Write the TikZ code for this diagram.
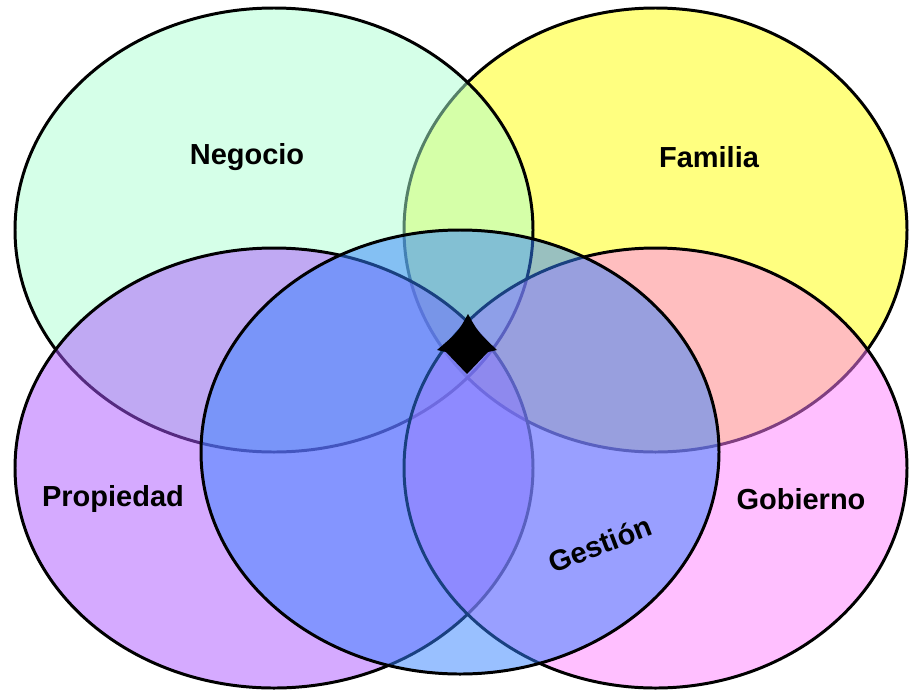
\documentclass[tikz,border=0pt]{standalone}
\usepackage{fontspec}
\setmainfont{Liberation Sans}
\usepackage{tikz}
\usetikzlibrary{positioning}
\usepackage{xcolor}
\definecolor{negociocol}{RGB}{171,255,209}
\definecolor{familiacol}{RGB}{255,255,1}
\definecolor{propiedadcol}{RGB}{171,85,255}
\definecolor{gobiernocol}{RGB}{255,127,255}
\definecolor{gestioncol}{RGB}{51,129,255}

\begin{document}
\begin{tikzpicture}[x=0.02cm, y=-0.02cm]
    \tikzset{
        set/.style={
            draw=black,
            line width=1.7pt,
            fill=#1,
            fill opacity=0.5,
            draw opacity=1
        },
        set label/.style={
            font=\fontsize{16.5}{19}\selectfont\bfseries,
            text=black,
            inner sep=1pt
        }
    }
    \useasboundingbox (0,0) rectangle (909,690);

    % the five sets
    \draw[set=familiacol] (655.5,230) ellipse [x radius=251.5, y radius=222];
    \draw[set=negociocol] (274,230) ellipse [x radius=259, y radius=222];
    \draw[set=propiedadcol] (274,468) ellipse [x radius=259, y radius=220];
    \draw[set=gobiernocol] (655.5,468) ellipse [x radius=251.5, y radius=220];
    \draw[set=gestioncol] (460,452) ellipse [x radius=259, y radius=222];

    % centre mark
    \fill[black] (468,314) .. controls (458,332) .. (437,350)
        -- (446,352) -- (467,374) -- (488,352) -- (497,350)
        .. controls (478,332) .. cycle;

    \node[set label] (negocio) at (247,157) {Negocio};
    \node[set label] (familia) at (709,157) {Familia};
    \node[set label] (propiedad) at (113,499) {Propiedad};
    \node[set label] (gobierno) at (801,499) {Gobierno};
    \node[set label, rotate=21] (gestion) at (600,544) {Gestión};

\end{tikzpicture}
\end{document}
